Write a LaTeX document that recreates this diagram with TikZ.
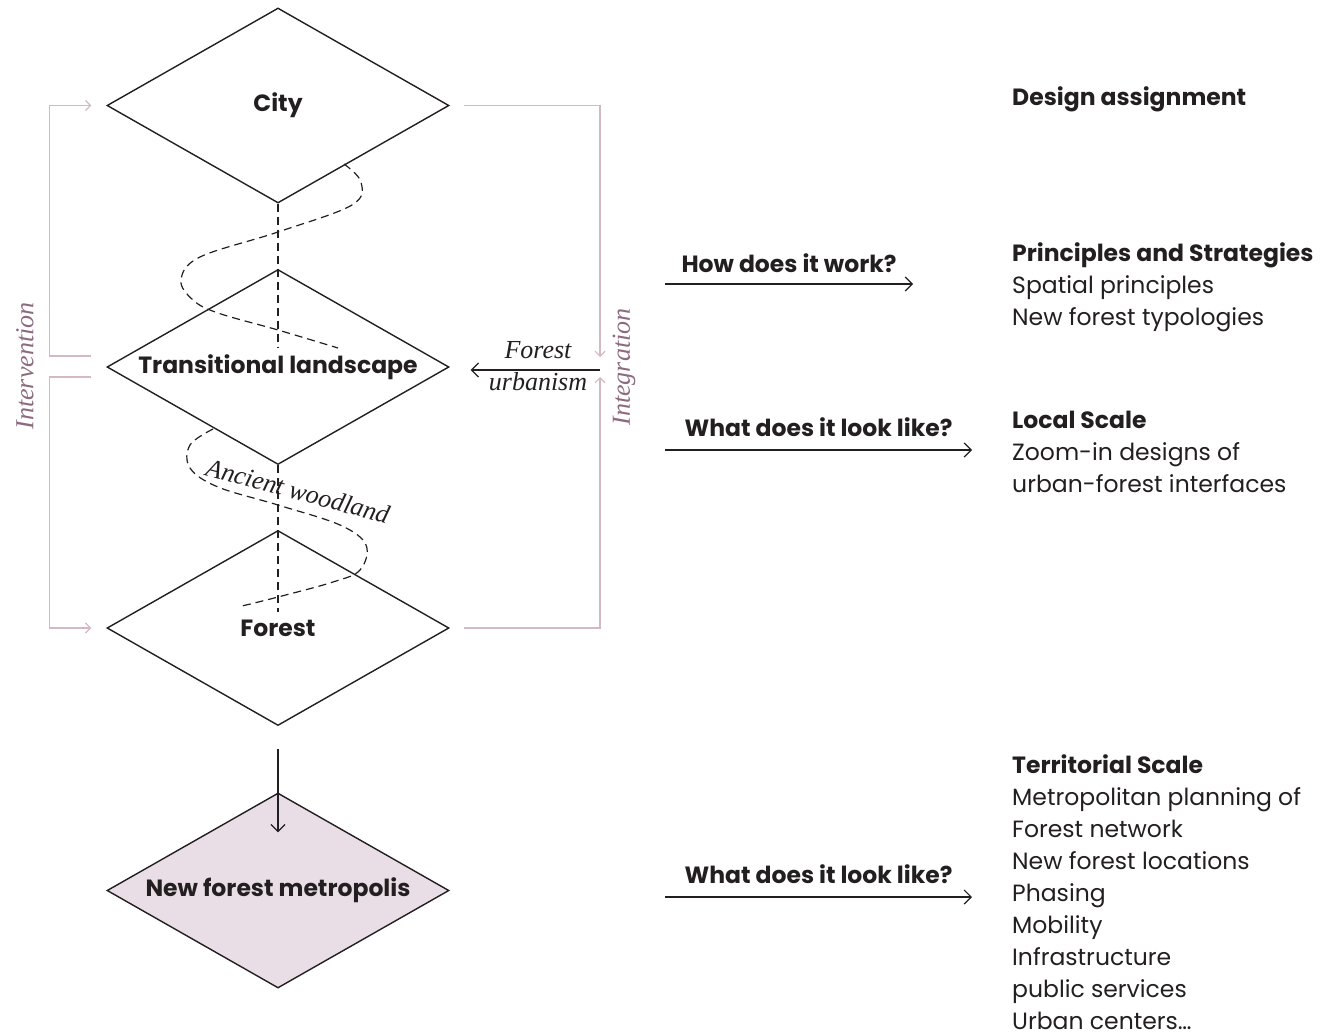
\documentclass[tikz,border=0pt]{standalone}
\usepackage{fontspec}
\setmainfont{Poppins}
\newfontfamily\serifit{Liberation Serif}
\usetikzlibrary{shapes.geometric,arrows.meta}
\definecolor{pk}{HTML}{D5B8C6}
\definecolor{mauve}{HTML}{8C6A80}
\definecolor{pkfill}{HTML}{E9DEE6}
\definecolor{ink}{HTML}{231F20}
\begin{document}
\begin{tikzpicture}[x=1pt,y=-1pt,
  dia/.style={diamond, draw=ink, line width=1.4pt, minimum width=342pt, minimum height=195pt,
    inner sep=0pt, shape aspect=1.76, font=\bfseries\fontsize{23.5}{28}\selectfont, text=ink},
  pkline/.style={draw=pk, line width=1.2pt},
  pktip/.style={-{Straight Barb[length=5pt,width=10pt]}},
  blk/.style={draw=ink, line width=1.2pt, -{Straight Barb[length=7pt,width=14pt]}},
  dsh/.style={draw=ink, line width=1.2pt, dash pattern=on 8pt off 5pt},
  ital/.style={font=\serifit\itshape\fontsize{26}{30}\selectfont, text=ink, inner sep=0pt},
  mv/.style={font=\serifit\itshape\fontsize{26}{30}\selectfont, text=mauve, inner sep=0pt, rotate=90},
  rtext/.style={anchor=base west, inner sep=0pt, font=\fontsize{23.5}{32}\selectfont, text=ink},
  rhead/.style={rtext, font=\bfseries\fontsize{23.5}{32}\selectfont},
  qtext/.style={anchor=base, inner sep=0pt, font=\bfseries\fontsize{23.5}{32}\selectfont, text=ink}
]
\useasboundingbox (0,0) rectangle (1321,1034);

% diamonds
\node[dia] (city) at (278,105.5) {City};
\node[dia] (trans) at (278,367) {Transitional landscape};
\node[dia] (forest) at (278,628) {Forest};
\node[dia, fill=pkfill] (metro) at (278,890.5) {New forest metropolis};

% dashed verticals
\draw[dsh] (city.south) -- ([yshift=19pt]trans.center);
\draw[dsh] (trans.south) -- ([yshift=16pt]forest.center);

% dashed S-curves
\draw[dsh] plot[smooth, tension=0.6] coordinates {(344,164) (361,182) (352,205) (278,232) (200,257) (181,280) (193,300) (218,313) (278,330) (338,348)};
\draw[dsh] plot[smooth, tension=0.6] coordinates {(213,429) (190,445) (190,468) (218,487) (278,505) (340,525) (366,545) (360,570) (333,582) (278,597) (242,606)};

\node[ital, rotate=-15] (anc) at (298,491) {Ancient woodland};

% intervention brackets
\draw[pkline, pktip] ([shift={(-15pt,11pt)}]trans.west) -- ++(-42,0) |- ([xshift=-15pt]city.west);
\draw[pkline, pktip] ([shift={(-15pt,-10pt)}]trans.west) -- ++(-42,0) |- ([xshift=-15pt]forest.west);
\node[mv] (interv) at (25,366) {Intervention};

% integration
\coordinate (ig) at (600,370);
\draw[pkline, pktip] ([xshift=14pt]city.east) -| ([yshift=13pt]ig);
\draw[pkline, pktip] ([xshift=14pt]forest.east) -| ([yshift=-7pt]ig);
\node[mv] (integ) at (624,367) {Integration};
\draw[blk] (ig) -- ([xshift=21pt]trans.east |- ig);
\node[ital] (fu1) at (538,350) {Forest};
\node[ital] (fu2) at (538,382) {urbanism};

% forest -> metro
\draw[blk] ([yshift=-23pt]forest.south) -- ([yshift=-40pt]metro.north);

% question arrows
\coordinate (q1a) at (665,284); \coordinate (q1b) at (913,284);
\coordinate (q2a) at (665,450); \coordinate (q2b) at (972,450);
\coordinate (q3a) at (665,897); \coordinate (q3b) at (972,897);
\draw[blk] (q1a) -- (q1b) node[qtext, midway, yshift=12pt] (q1t) {How does it work?};
\draw[blk] (q2a) -- (q2b) node[qtext, midway, yshift=14pt] (q2t) {What does it look like?};
\draw[blk] (q3a) -- (q3b) node[qtext, midway, yshift=14pt] (q3t) {What does it look like?};

% right texts
\node[rhead] (da) at (1012,105) {Design assignment};
\node[rhead] (ps) at (1012,261) {Principles and Strategies};
\foreach \t [count=\i] in {Spatial principles, New forest typologies}
  \node[rtext] (ps\i) at (1012,261+32*\i) {\t};
\node[rhead] (ls) at (1012,428) {Local Scale};
\foreach \t [count=\i] in {Zoom-in designs of, urban-forest interfaces}
  \node[rtext] (ls\i) at (1012,428+32*\i) {\t};
\node[rhead] (ts) at (1012,773) {Territorial Scale};
\foreach \t [count=\i] in {Metropolitan planning of, Forest network, New forest locations, Phasing, Mobility, Infrastructure, public services, {Urban centers…}}
  \node[rtext] (ts\i) at (1012,773+32*\i) {\t};
\end{tikzpicture}
\end{document}
